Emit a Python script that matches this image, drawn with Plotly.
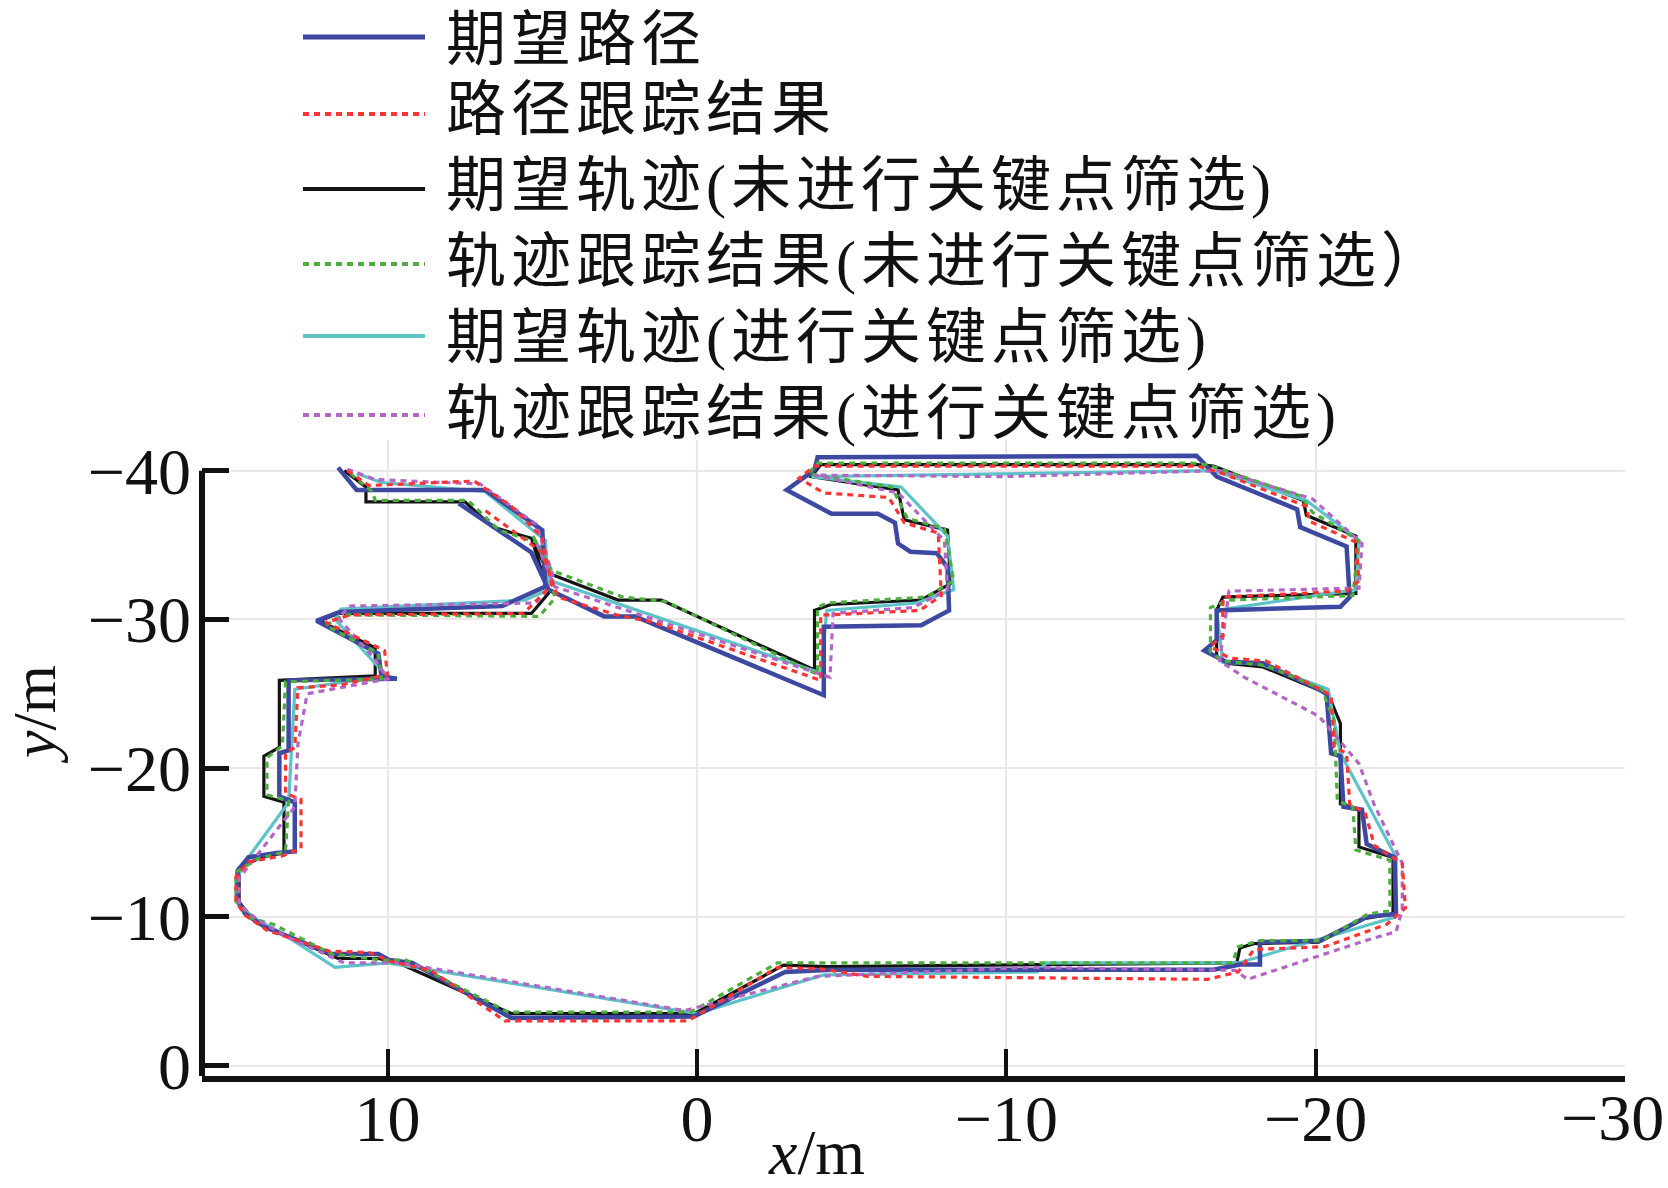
import plotly.graph_objects as go

# ---------------- data (x/m, y/m) ----------------
blue_path = [(11.6,-40.2),(11.0,-38.7),(6.85,-38.7),(5.0,-36.0),(4.9,-32.2),(6.3,-30.9),(11.55,-30.5),
    (12.3,-29.9),(10.3,-27.7),(10.2,-26.2),(9.7,-26.0),(13.2,-25.9),(13.2,-21.2),(13.5,-21.0),(13.5,-18.1),
    (13.0,-17.7),(13.0,-14.4),(13.6,-14.3),(14.5,-14.0),(14.85,-13.1),(14.85,-11.1),(14.6,-10.2),(13.95,-9.3),
    (11.8,-7.5),(10.3,-7.5),(9.95,-7.1),(9.2,-6.9),(6.0,-3.2),(0.1,-3.3),(-2.85,-6.3),(-4.35,-6.45),
    (-16.7,-6.45),(-17.55,-6.8),(-18.2,-6.8),(-18.2,-8.3),(-20.15,-8.4),(-21.65,-10.0),(-22.6,-10.2),
    (-22.55,-14.0),(-21.65,-14.9),(-21.5,-17.2),(-20.9,-17.4),(-20.8,-20.8),(-20.5,-21.0),(-20.35,-25.0),
    (-20.1,-25.3),(-18.3,-27.05),(-17.1,-27.15),(-16.4,-27.9),(-16.8,-28.6),(-16.8,-30.6),(-20.8,-30.85),
    (-21.1,-31.5),(-21.0,-34.9),(-19.5,-36.2),(-19.4,-37.4),(-16.8,-39.6),(-16.15,-41.0),(-3.9,-40.9),
    (-3.8,-40.05),(-2.9,-38.7),(-4.35,-37.1),(-5.85,-37.1),(-6.4,-36.5),(-6.5,-35.1),(-6.9,-34.55),
    (-7.75,-34.45),(-8.1,-33.5),(-8.15,-30.6),(-7.25,-29.6),(-4.1,-29.5),(-4.1,-24.9),(2.0,-30.2),
    (3.0,-30.2),(4.8,-32.0),(5.35,-34.5),(7.7,-37.8)]

red_path = [(11.3,-40.0),(10.6,-39.0),(7.2,-39.3),(6.0,-37.6),(5.0,-35.5),(4.7,-32.3),(5.6,-30.4),
    (11.2,-30.3),(12.0,-29.8),(10.1,-27.9),(10.0,-26.3),(11.5,-25.6),(12.9,-25.4),(13.0,-21.4),(13.3,-21.0),
    (13.3,-18.3),(12.8,-17.9),(12.8,-14.6),(13.4,-14.1),(14.5,-13.7),(14.9,-12.7),(14.9,-11.0),(14.6,-10.1),
    (13.9,-9.1),(11.9,-7.7),(10.6,-7.6),(9.9,-7.0),(8.6,-6.4),(6.2,-3.0),(0.3,-3.0),(-2.6,-6.6),(-4.0,-6.5),
    (-5.5,-6.0),(-16.5,-5.8),(-17.5,-6.3),(-18.0,-7.8),(-20.3,-8.0),(-22.3,-9.5),(-22.9,-10.6),(-22.8,-13.6),
    (-21.9,-14.8),(-21.6,-17.0),(-21.1,-17.6),(-21.0,-21.0),(-20.6,-21.4),(-20.5,-24.9),(-18.4,-27.2),
    (-17.2,-27.4),(-16.6,-28.2),(-17.0,-28.9),(-17.0,-31.5),(-21.0,-31.9),(-21.4,-32.6),(-21.3,-35.2),
    (-19.8,-36.6),(-19.7,-37.6),(-17.0,-39.8),(-16.2,-40.3),(-3.8,-40.3),(-3.3,-39.5),(-4.1,-38.5),
    (-6.2,-38.2),(-6.7,-36.5),(-7.8,-35.8),(-7.9,-31.6),(-7.2,-30.6),(-4.3,-30.3),(-4.0,-30.3),(-4.0,-25.9),
    (1.4,-29.8),(2.6,-30.3),(4.5,-31.5),(5.0,-34.5),(6.9,-37.4)]

black_path = [(11.4,-40.0),(10.7,-38.9),(10.7,-37.9),(7.5,-37.9),(6.6,-36.2),(5.35,-35.45),(5.0,-33.1),
    (4.8,-31.75),(5.35,-30.4),(11.6,-30.4),(12.2,-29.9),(10.4,-28.1),(10.4,-26.2),(13.5,-25.9),(13.5,-21.4),
    (14.0,-20.8),(14.0,-18.1),(13.35,-17.7),(13.35,-14.3),(14.1,-14.0),(14.8,-13.3),(14.8,-11.0),(14.5,-10.2),
    (13.9,-9.3),(11.6,-7.2),(10.3,-7.2),(9.65,-6.9),(6.0,-3.5),(0.07,-3.5),(-2.8,-6.75),(-4.2,-6.65),
    (-17.45,-6.9),(-17.55,-7.9),(-18.0,-8.2),(-20.1,-8.3),(-21.6,-9.9),(-22.5,-10.2),(-22.5,-14.0),
    (-21.4,-14.7),(-21.4,-17.2),(-20.8,-17.6),(-20.8,-23.0),(-20.4,-25.0),(-18.3,-26.8),(-17.1,-27.05),
    (-16.8,-27.5),(-16.8,-30.6),(-17.0,-31.5),(-21.3,-31.75),(-21.3,-35.6),(-19.7,-37.0),(-19.6,-38.0),
    (-16.7,-40.3),(-16.15,-40.4),(-4.0,-40.4),(-3.7,-39.6),(-6.5,-38.7),(-6.7,-36.7),(-8.1,-36.0),
    (-8.2,-32.4),(-7.24,-31.3),(-4.33,-31.0),(-3.8,-30.6),(-3.8,-26.6),(1.15,-31.3),(2.55,-31.3),
    (4.8,-33.1),(5.35,-35.45)]

green_path = [(11.2,-39.8),(10.5,-38.6),(10.4,-38.0),(7.4,-38.0),(6.4,-36.0),(5.2,-35.2),(4.7,-33.0),
    (4.6,-31.4),(5.1,-30.2),(11.4,-30.3),(12.0,-29.6),(10.3,-27.7),(10.2,-26.0),(13.3,-25.8),(13.4,-21.5),
    (13.9,-20.7),(13.9,-18.2),(13.2,-17.8),(13.3,-14.4),(14.2,-13.9),(14.9,-13.0),(14.9,-11.1),(14.4,-9.9),
    (13.7,-9.5),(11.8,-7.5),(10.2,-7.1),(9.4,-7.1),(6.1,-3.6),(0.2,-3.6),(-2.6,-6.9),(-4.3,-6.9),
    (-17.3,-6.9),(-17.5,-8.0),(-18.2,-8.4),(-20.2,-8.4),(-21.7,-10.2),(-22.4,-10.4),(-22.4,-13.8),
    (-21.3,-14.5),(-21.2,-17.4),(-20.7,-17.8),(-20.6,-23.2),(-20.2,-25.3),(-18.4,-26.9),(-17.0,-27.2),
    (-16.6,-27.8),(-16.6,-30.8),(-17.2,-31.3),(-21.2,-31.6),(-21.4,-35.3),(-19.9,-37.2),(-19.5,-38.3),
    (-16.5,-40.4),(-16.0,-40.5),(-3.9,-40.5),(-3.6,-39.8),(-6.3,-38.9),(-6.8,-36.8),(-8.0,-36.1),
    (-8.3,-32.6),(-7.4,-31.5),(-4.2,-31.1),(-3.9,-30.8),(-3.9,-26.3),(1.0,-31.2),(2.4,-31.5),
    (4.7,-33.3),(5.3,-35.6)]

cyan_path = [(11.0,-39.8),(10.2,-39.2),(6.85,-38.6),(4.9,-35.3),(4.8,-32.0),(5.55,-31.3),(11.5,-30.7),
    (11.7,-30.0),(10.3,-26.8),(10.0,-26.2),(13.0,-25.3),(13.1,-21.5),(13.2,-17.7),(14.5,-14.0),(14.9,-12.5),
    (14.9,-11.0),(14.4,-10.0),(13.5,-9.0),(11.7,-6.6),(10.0,-6.9),(0.0,-3.5),(-4.1,-6.1),(-11.0,-6.3),
    (-11.3,-6.9),(-17.5,-6.9),(-22.6,-10.0),(-22.6,-14.0),(-20.8,-21.0),(-20.4,-25.3),(-18.2,-27.0),
    (-17.0,-27.1),(-16.8,-30.6),(-21.3,-32.0),(-21.4,-35.3),(-19.7,-38.0),(-16.7,-40.0),(-9.7,-39.8),
    (-3.7,-39.6),(-6.6,-38.9),(-8.1,-35.6),(-8.3,-32.0),(-7.1,-31.1),(-4.2,-30.6),(-4.0,-26.4),
    (4.8,-32.65),(5.1,-35.0)]

purple_path = [(11.3,-40.1),(10.4,-39.4),(7.0,-39.1),(5.2,-36.4),(4.6,-32.6),(5.2,-31.1),(11.2,-30.9),
    (11.6,-30.1),(10.4,-27.3),(10.0,-26.0),(12.6,-25.0),(12.9,-21.6),(13.0,-17.4),(14.2,-14.2),(14.8,-12.6),
    (14.8,-10.8),(14.2,-9.8),(13.3,-8.7),(11.4,-6.9),(9.6,-6.9),(0.4,-3.7),(-3.9,-6.0),(-10.8,-6.6),
    (-17.4,-6.4),(-17.8,-5.8),(-21.6,-8.4),(-22.6,-9.0),(-22.8,-10.5),(-22.8,-13.6),(-21.9,-17.5),
    (-21.4,-20.3),(-20.1,-23.5),(-17.7,-26.1),(-16.9,-27.2),(-17.2,-31.9),(-21.4,-32.1),(-21.5,-35.1),
    (-19.9,-38.1),(-16.9,-40.0),(-9.9,-39.6),(-3.8,-39.7),(-6.5,-38.5),(-8.0,-35.3),(-8.1,-32.0),
    (-7.0,-30.8),(-4.4,-30.4),(-4.3,-26.1),(4.6,-32.2),(5.2,-35.2)]

series_names = ["期望路径", "路径跟踪结果", "期望轨迹(未进行关键点筛选)",
                "轨迹跟踪结果(未进行关键点筛选）", "期望轨迹(进行关键点筛选)",
                "轨迹跟踪结果(进行关键点筛选)"]
x_ticks = [10, 0, -10, -20, -30]
x_tick_text = ["10", "0", "−10", "−20", ""]   # "−30" drawn separately so it is not cut at the edge
last_x_tick_text = "−30"
y_ticks = [-40, -30, -20, -10, 0]
x_range = [16.0, -30.0]
y_range = [0.7, -42.06]
y_axis_top = -40

# ---------------- styles ----------------
paths = [blue_path, red_path, black_path, green_path, cyan_path, purple_path]
colors = ["#3d49a0", "#ff3333", "#141414", "#4dae3e", "#5cc3c8", "#b466c6"]
dashes = ["solid", "6px,5px", "solid", "6px,5px", "solid", "6px,5px"]
widths = [4.5, 3.2, 3.2, 3.2, 3.2, 3.2]
draw_order = [2, 4, 0, 3, 5, 1]

fig = go.Figure()
for i in draw_order:
    xs = [p[0] for p in paths[i]]
    ys = [p[1] for p in paths[i]]
    fig.add_trace(go.Scatter(x=xs, y=ys, mode="lines", name=series_names[i],
                             showlegend=False,
                             line=dict(color=colors[i], width=widths[i], dash=dashes[i])))

W, H = 1668, 1188
ml, mr, mt, mb = 202, 43, 440, 112
pw, ph = W - ml - mr, H - mt - mb

def px_to_paper_x(px):
    return (px - ml) / pw

def px_to_paper_y(py):
    return (H - mb - py) / ph

serif = "Liberation Serif, Times New Roman, serif"
cjk = "Liberation Serif, Noto Sans CJK SC, serif"
ink = "#111111"

shapes = []
annotations = []
# manual legend (long sample lines like the reference)
row_text_y = [40, 110, 186, 262, 338, 414]
row_line_y = [37, 114, 189, 264, 336, 415]
for k in range(6):
    yl = px_to_paper_y(row_line_y[k])
    shapes.append(dict(type="line", xref="paper", yref="paper",
                       x0=px_to_paper_x(303), x1=px_to_paper_x(425), y0=yl, y1=yl,
                       line=dict(color=colors[k], width=5 if k == 0 else 4, dash=dashes[k])))
    annotations.append(dict(text='<span style="letter-spacing:5px">' + series_names[k] + '</span>',
                            xref="paper", yref="paper",
                            x=px_to_paper_x(444), y=px_to_paper_y(row_text_y[k]),
                            xanchor="left", yanchor="middle", showarrow=False,
                            font=dict(family=cjk, size=60, color=ink)))

# y axis line ends at -40 like the reference
shapes.append(dict(type="line", xref="paper", yref="y", x0=0, x1=0,
                   y0=y_range[0], y1=y_axis_top, line=dict(color=ink, width=6)))

annotations.append(dict(text=last_x_tick_text, xref="paper", yref="paper",
                        x=px_to_paper_x(1666), y=px_to_paper_y(1117), xanchor="right",
                        yanchor="middle", showarrow=False,
                        font=dict(family=serif, size=66, color=ink)))
annotations.append(dict(text="<i>x</i>/m", xref="paper", yref="paper",
                        x=px_to_paper_x(816), y=px_to_paper_y(1190), xanchor="center",
                        yanchor="bottom", showarrow=False,
                        font=dict(family=serif, size=64, color=ink)))
annotations.append(dict(text="<i>y</i>/m", xref="paper", yref="paper",
                        x=px_to_paper_x(34), y=px_to_paper_y(715), xanchor="center",
                        yanchor="middle", showarrow=False, textangle=-90,
                        font=dict(family=serif, size=62, color=ink)))

fig.update_layout(
    width=W, height=H,
    margin=dict(l=ml, r=mr, t=mt, b=mb),
    paper_bgcolor="white", plot_bgcolor="white",
    showlegend=False,
    shapes=shapes, annotations=annotations,
    xaxis=dict(range=x_range, tickvals=x_ticks, ticktext=x_tick_text,
               ticks="inside", ticklen=27, tickwidth=4,
               tickcolor=ink, showline=True, linewidth=6, linecolor=ink,
               showgrid=True, gridcolor="#ece6e6", gridwidth=2, zeroline=False,
               ticklabelstandoff=-20,
               tickfont=dict(family=serif, size=66, color=ink)),
    yaxis=dict(range=y_range, tickvals=y_ticks, ticks="inside", ticklen=27, tickwidth=5,
               tickcolor=ink, showline=False,
               showgrid=True, gridcolor="#ece6e6", gridwidth=2, zeroline=False,
               ticklabelstandoff=10,
               tickfont=dict(family=serif, size=66, color=ink)),
)

fig.write_html("out.html", config={"displayModeBar": False},
               post_script="document.body.style.margin='0';document.body.style.padding='0';")
